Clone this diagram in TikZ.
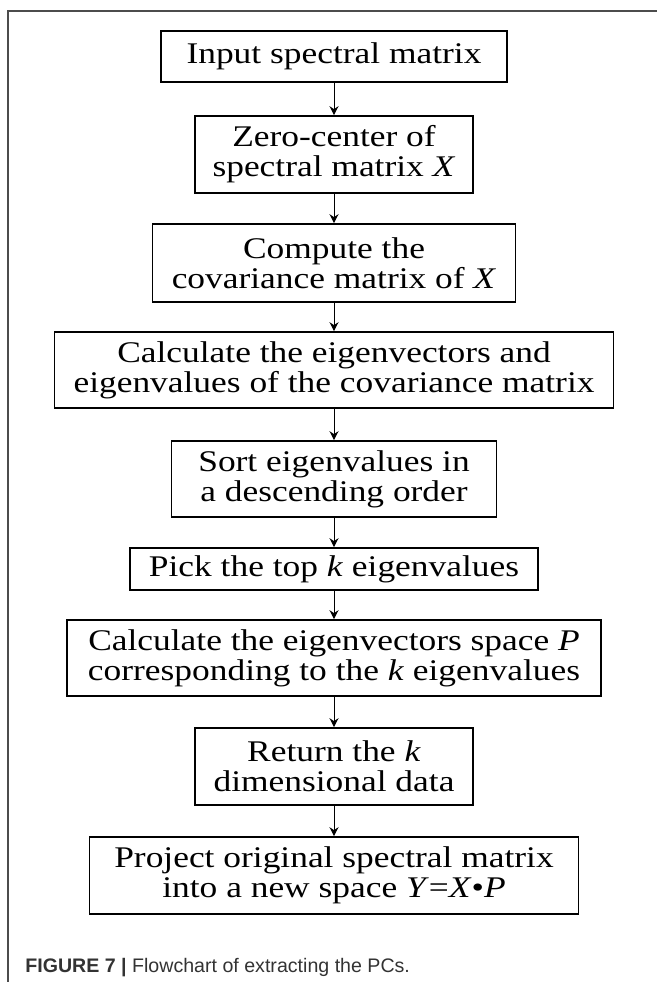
\documentclass[tikz,border=0pt]{standalone}
\usepackage{fontspec}
\setmainfont{Liberation Serif}[FakeStretch=1.18]
\newfontfamily\captfont{Liberation Sans}
\usetikzlibrary{arrows.meta,positioning}
\tikzset{
  stepbox/.style={draw, line width=0.8pt, inner sep=0pt, align=center,
                  font=\fontsize{15}{15}\selectfont},
  flow/.style   ={-{Stealth[length=4.5pt, width=4.5pt]}, line width=0.5pt},
  frame/.style  ={line width=0.6pt, black!70},
  capt/.style   ={font=\captfont\fontsize{9.8}{11}\selectfont, text=black!80,
                  anchor=base west, inner sep=0pt},
}

\begin{document}
\begin{tikzpicture}[x=0.5pt, y=-0.5pt]
  \useasboundingbox (0,0) rectangle (657,982);
  \draw[frame] (8,982) -- (8,11) -- (657,11);
  \node[stepbox, minimum width=173pt, minimum height=25.5pt] (inp) at (334,56.5)
    {Input spectral matrix};
  \node[stepbox, minimum width=139pt, minimum height=38.5pt] (zero) at (334,154.5)
    {Zero-center of\\ spectral matrix \textit{X}};
  \node[stepbox, minimum width=181.5pt, minimum height=39pt] (cov) at (334,263)
    {Compute the\\ covariance matrix of \textit{X}};
  \node[stepbox, minimum width=279.5pt, minimum height=38pt] (eig) at (334,370)
    {Calculate the eigenvectors and\\ eigenvalues of the covariance matrix};
  \node[stepbox, minimum width=162.5pt, minimum height=38pt] (sort) at (334,479)
    {Sort eigenvalues in\\ a descending order};
  \node[stepbox, minimum width=204pt, minimum height=21pt] (pick) at (334,569)
    {Pick the top \textit{k} eigenvalues};
  \node[stepbox, minimum width=267pt, minimum height=38pt] (space) at (334,658)
    {Calculate the eigenvectors space \textit{P}\\ corresponding to the \textit{k} eigenvalues};
  \node[stepbox, minimum width=139pt, minimum height=38.5pt] (ret) at (334,766.5)
    {Return the \textit{k}\\ dimensional data};
  \node[stepbox, minimum width=244.5pt, minimum height=38.5pt] (proj) at (334,875.5)
    {Project original spectral matrix\\ into a new space \textit{Y}=\textit{X}•\textit{P}};
  \draw[flow] (inp) -- (zero);
  \draw[flow] (zero) -- (cov);
  \draw[flow] (cov) -- (eig);
  \draw[flow] (eig) -- (sort);
  \draw[flow] (sort) -- (pick);
  \draw[flow] (pick) -- (space);
  \draw[flow] (space) -- (ret);
  \draw[flow] (ret) -- (proj);
  \node[capt] (cap) at (25,972)
    {\textbf{FIGURE 7 |} Flowchart of extracting the PCs.};
\end{tikzpicture}
\end{document}
